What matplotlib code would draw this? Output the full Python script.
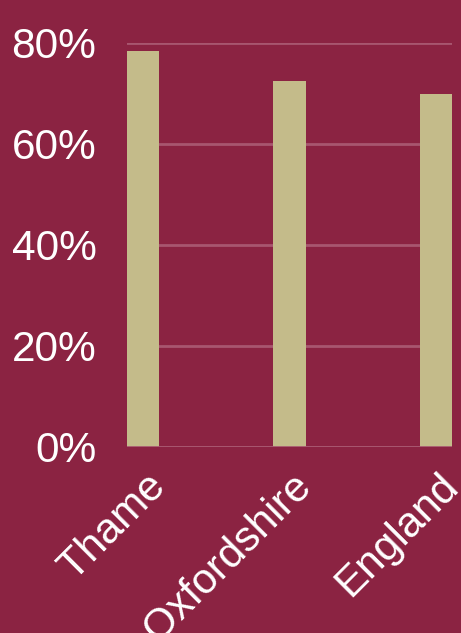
import numpy as np
import matplotlib.pyplot as plt
import matplotlib.transforms as mtransforms

plt.rcParams['font.family'] = ['Liberation Sans', 'DejaVu Sans']

areas = ['Thame', 'Oxfordshire', 'England']
share = [78.4, 72.5, 69.9]
yticks = [0, 20, 40, 60, 80]

bg = '#8B2342'
bar_col = '#C4BB8A'
grid_col = '#A8566F'

fig = plt.figure(figsize=(4.61, 6.33), dpi=100, facecolor=bg)
ax = fig.add_axes([127/461, 1-447/633, 325/461, 404/633])
ax.set_facecolor(bg)

x = np.arange(len(areas))
w = 0.22
bars = ax.bar(x, share, width=w, color=bar_col, zorder=2)

ax.set_xlim(-w/2, len(areas)-1+w/2)
ax.set_ylim(0, 80)
ax.set_yticks(yticks)
ax.set_yticklabels([f'{v}%' for v in yticks])
ax.yaxis.grid(True, color=grid_col, linewidth=2, zorder=1)
ax.set_axisbelow(True)
ax.axhline(0, color=grid_col, linewidth=2, zorder=3)

ax.set_xticks(x)
ax.set_xticklabels(areas, rotation=45, ha='right', va='center', rotation_mode='anchor')
for s in ax.spines.values():
    s.set_visible(False)
ax.tick_params(axis='both', length=0, colors='white', labelsize=30.5)
ax.tick_params(axis='y', pad=22)
ax.tick_params(axis='x', pad=24)

# nudge the rotated labels to the right
off = mtransforms.ScaledTranslation(16/100, 0, fig.dpi_scale_trans)
for lab in ax.get_xticklabels():
    lab.set_transform(lab.get_transform() + off)

fig.savefig('out.png', dpi=100, facecolor=bg)
